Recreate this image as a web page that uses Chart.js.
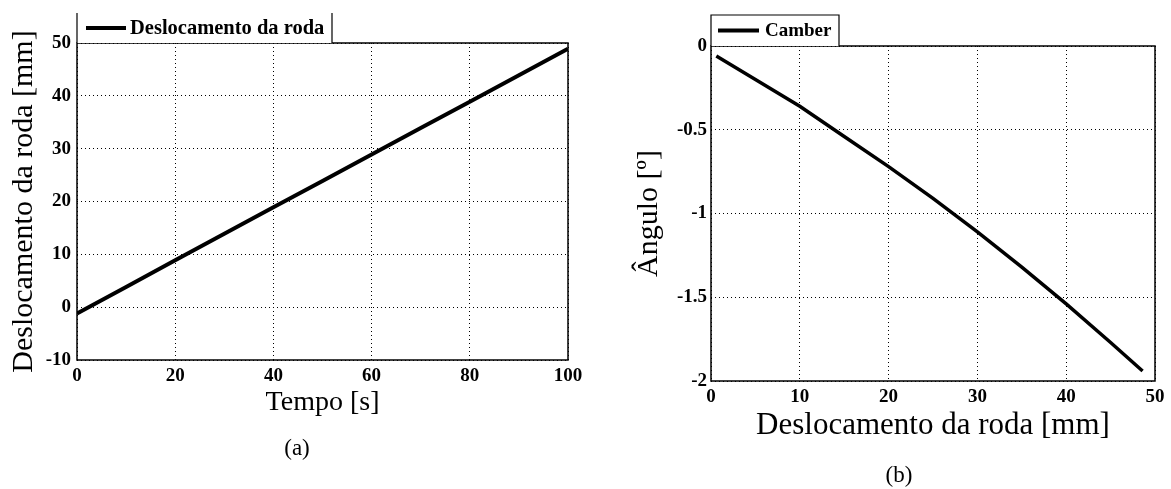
<!DOCTYPE html>
<html>
<head>
<meta charset="utf-8">
<script src="https://cdn.jsdelivr.net/npm/chart.js@4/dist/chart.umd.min.js"></script>
<style>
  body { margin: 0; background: #fff; }
  #wrap { position: relative; width: 1171px; height: 489px; overflow: hidden; }
  canvas { position: absolute; top: 0; }
  .cap { position: absolute; font-family: "Liberation Serif", serif; font-size: 23px; color: #000; transform: translate(-50%, -50%); }
</style>
</head>
<body>
<div id="wrap">
  <canvas id="chartA" width="590" height="489" style="left:0"></canvas>
  <canvas id="chartB" width="581" height="489" style="left:590px"></canvas>
  <div class="cap" style="left:297px; top:448px">(a)</div>
  <div class="cap" style="left:899px; top:475px">(b)</div>
</div>
<script>
// (a) wheel displacement vs time
const tempo = [0, 10, 20, 30, 40, 50, 60, 70, 80, 90, 100];
const deslocamento = [-1.2, 3.8, 8.9, 13.9, 18.9, 23.9, 28.9, 33.9, 38.9, 43.9, 48.9];

// (b) camber vs wheel displacement
const deslocRoda = [0.6, 5, 10, 15, 20, 25, 30, 35, 40, 45, 48.6];
const camber = [-0.06, -0.20, -0.36, -0.54, -0.72, -0.91, -1.11, -1.32, -1.54, -1.77, -1.94];

const serif = '"Liberation Serif", "Times New Roman", serif';

const toPoints = (xs, ys) => xs.map((x, i) => ({ x: x, y: ys[i] }));

// box around the plot area + matlab style legend in the top-left corner
const boxLegend = (label, fontSize, boxRight, boxTop, lineX0, lineX1, textX, drawTop) => ({
    id: 'boxLegend',
    afterDraw(chart) {
        const { ctx, chartArea: a } = chart;
        ctx.save();
        ctx.strokeStyle = '#000';
        ctx.lineWidth = 1.5;
        ctx.strokeRect(a.left, a.top, a.right - a.left, a.bottom - a.top);

        ctx.fillStyle = '#fff';
        ctx.fillRect(a.left, boxTop, boxRight - a.left, a.top - boxTop);
        ctx.lineWidth = 1.2;
        ctx.beginPath();
        ctx.moveTo(a.left, a.top);
        ctx.lineTo(a.left, boxTop);
        if (drawTop) ctx.lineTo(boxRight, boxTop);
        else ctx.moveTo(boxRight, boxTop);
        ctx.lineTo(boxRight, a.top);
        ctx.stroke();

        const midY = (boxTop + a.top) / 2;
        ctx.lineWidth = 4;
        ctx.beginPath();
        ctx.moveTo(lineX0, midY);
        ctx.lineTo(lineX1, midY);
        ctx.stroke();

        ctx.fillStyle = '#000';
        ctx.font = 'bold ' + fontSize + 'px ' + serif;
        ctx.textBaseline = 'middle';
        ctx.fillText(label, textX, midY + 1);
        ctx.restore();
    }
});

const tickLabel = (v) => String(+v.toFixed(2));

const makeScales = (opt) => ({
    x: {
        type: 'linear',
        min: opt.xMin, max: opt.xMax,
        afterFit: (s) => { s.height = opt.xHeight; },
        ticks: { stepSize: opt.xStep, color: '#000', padding: 5, maxRotation: 0, callback: tickLabel,
                 font: { family: serif, size: 19, weight: 'bold' } },
        grid: { color: '#000', lineWidth: 1, drawTicks: false },
        border: { display: false, dash: [1, 3] },
        title: { display: true, text: opt.xTitle, color: '#000', padding: 0,
                 font: { family: serif, size: opt.xTitleSize, lineHeight: 1 } }
    },
    y: {
        min: opt.yMin, max: opt.yMax,
        afterFit: (s) => { s.width = opt.yWidth; },
        ticks: { stepSize: opt.yStep, color: '#000', padding: opt.yPad, callback: tickLabel,
                 font: { family: serif, size: 19, weight: 'bold' } },
        grid: { color: '#000', lineWidth: 1, drawTicks: false },
        border: { display: false, dash: [1, 3] },
        title: { display: true, text: opt.yTitle, color: '#000', padding: { top: opt.yTitlePad, bottom: 0 },
                 font: { family: serif, size: 30, lineHeight: 1 } }
    }
});

new Chart(document.getElementById('chartA'), {
    type: 'line',
    data: {
        datasets: [{
            label: 'Deslocamento da roda',
            data: toPoints(tempo, deslocamento),
            borderColor: '#000',
            borderWidth: 4,
            pointRadius: 0,
            tension: 0
        }]
    },
    options: {
        responsive: false,
        animation: false,
        layout: { padding: { top: 43, right: 22, bottom: 72, left: 0 } },
        plugins: { legend: { display: false }, tooltip: { enabled: false } },
        scales: makeScales({
            xMin: 0, xMax: 100, xStep: 20, xHeight: 57, xTitle: 'Tempo [s]', xTitleSize: 28,
            yMin: -10, yMax: 50, yStep: 10, yWidth: 77, yPad: 6, yTitlePad: 9,
            yTitle: 'Deslocamento da roda [mm]'
        })
    },
    plugins: [boxLegend('Deslocamento da roda', 20.5, 332, 13, 86, 126, 130, false)]
});

new Chart(document.getElementById('chartB'), {
    type: 'line',
    data: {
        datasets: [{
            label: 'Camber',
            data: toPoints(deslocRoda, camber),
            borderColor: '#000',
            borderWidth: 3.5,
            pointRadius: 0,
            tension: 0
        }]
    },
    options: {
        responsive: false,
        animation: false,
        layout: { padding: { top: 46, right: 16, bottom: 48, left: 0 } },
        plugins: { legend: { display: false }, tooltip: { enabled: false } },
        scales: makeScales({
            xMin: 0, xMax: 50, xStep: 10, xHeight: 60, xTitle: 'Deslocamento da roda [mm]', xTitleSize: 31,
            yMin: -2, yMax: 0, yStep: 0.5, yWidth: 121, yPad: 4, yTitlePad: 44,
            yTitle: 'Ângulo [º]'
        })
    },
    plugins: [boxLegend('Camber', 19, 249, 15, 128, 169, 175, true)]
});
</script>
</body>
</html>
